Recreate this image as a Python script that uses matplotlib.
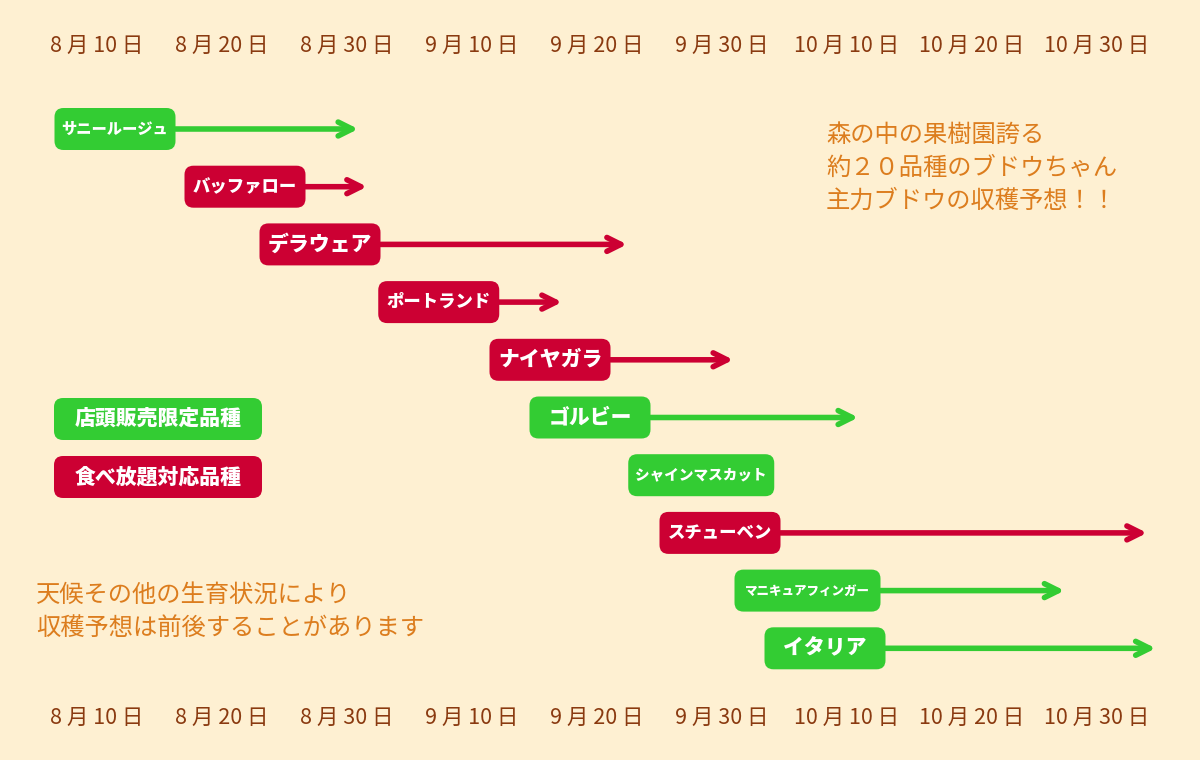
import numpy as np
import matplotlib.pyplot as plt
from matplotlib.patches import FancyBboxPatch
from matplotlib.transforms import blended_transform_factory

plt.rcParams['font.family'] = ['Noto Sans CJK JP', 'DejaVu Sans']

# harvest periods, in units of the axis ticks (上旬/中旬/下旬 steps)
tick_labels = ['8 月 10 日', '8 月 20 日', '8 月 30 日', '9 月 10 日', '9 月 20 日',
               '9 月 30 日', '10 月 10 日', '10 月 20 日', '10 月 30 日']
varieties = ['サニールージュ', 'バッファロー', 'デラウェア', 'ポートランド', 'ナイヤガラ',
             'ゴルビー', 'シャインマスカット', 'スチューベン', 'マニキュアフィンガー', 'イタリア']
groups = ['shop', 'buffet', 'buffet', 'buffet', 'buffet',
          'shop', 'shop', 'buffet', 'shop', 'shop']
start = [-0.34, 0.70, 1.30, 2.25, 3.14, 3.46, 4.25, 4.50, 5.10, 5.34]
end = [2.09, 2.16, 4.24, 3.72, 5.09, 6.09, np.nan, 8.40, 7.74, 8.47]
legend_labels = {'shop': '店頭販売限定品種', 'buffet': '食べ放題対応品種'}

note_right = '森の中の果樹園誇る\n約２０品種のブドウちゃん\n主力ブドウの収穫予想！！'
note_left = '天候その他の生育状況により\n収穫予想は前後することがあります'

BG = '#fef0d2'
COLORS = {'shop': '#33cc33', 'buffet': '#cc0033'}
TICK_COLOR = '#8a3a10'
NOTE_COLOR = '#dc7d1e'

W, H = 1200, 760
XPX0, XSTEP = 97, 125       # pixel of first tick and tick spacing
YPX0, YSTEP = 129, 57.7     # pixel of first row and row spacing

fig = plt.figure(figsize=(W / 100, H / 100), dpi=100, facecolor=BG)
ax = fig.add_axes([0, 0, 1, 1])
ax.set_facecolor(BG)
ax.set_xlim(-XPX0 / XSTEP, (W - XPX0) / XSTEP)
ax.set_ylim((H - YPX0) / YSTEP, -YPX0 / YSTEP)
ax.axis('off')

aspect = XSTEP / YSTEP
box_h = 42 / YSTEP
rnd = 9 / XSTEP
renderer = fig.canvas.get_renderer()


def label_box(x0, yc, w, color, text, maxsize):
    box = FancyBboxPatch((x0, yc - box_h / 2), w, box_h,
                         boxstyle=f'round,pad=0,rounding_size={rnd}',
                         mutation_aspect=aspect, fc=color, ec='none', zorder=3)
    ax.add_patch(box)
    t = ax.text(x0 + w / 2, yc, text, ha='center', va='center', color='white',
                fontsize=maxsize, fontweight='heavy', zorder=4)
    # shrink the label until it fits inside the box
    limit = w * XSTEP - 14
    size = maxsize
    while t.get_window_extent(renderer).width > limit and size > 6:
        size -= 0.5
        t.set_fontsize(size)


for i, (name, grp, s, e) in enumerate(zip(varieties, groups, start, end)):
    w = (146 if len(name) > 8 else 121) / XSTEP
    color = COLORS[grp]
    if not np.isnan(e):
        ax.annotate('', xy=(e, i), xytext=(s + w, i),
                    arrowprops=dict(arrowstyle='->,head_length=1.0,head_width=0.5',
                                    color=color, lw=4, capstyle='round',
                                    joinstyle='round', shrinkA=0, shrinkB=0),
                    zorder=2)
    label_box(s, i, w, color, name, 15)

# legend boxes
for k, grp in enumerate(['shop', 'buffet']):
    label_box(-0.344, (419 + 58 * k - YPX0) / YSTEP, 208 / XSTEP,
              COLORS[grp], legend_labels[grp], 15)

# date labels top and bottom
trans = blended_transform_factory(ax.transData, ax.transAxes)
for i, lab in enumerate(tick_labels):
    for ypx in (46, 718):
        ax.text(i, 1 - ypx / H, lab, transform=trans, ha='center', va='center',
                color=TICK_COLOR, fontsize=15.5)

ax.text(826 / W, 1 - 122 / H, note_right, transform=ax.transAxes, ha='left', va='top',
        color=NOTE_COLOR, fontsize=17.5, linespacing=1.35)
ax.text(36 / W, 1 - 582 / H, note_left, transform=ax.transAxes, ha='left', va='top',
        color=NOTE_COLOR, fontsize=17.5, linespacing=1.35)

fig.savefig('out.png', dpi=100, facecolor=BG)
